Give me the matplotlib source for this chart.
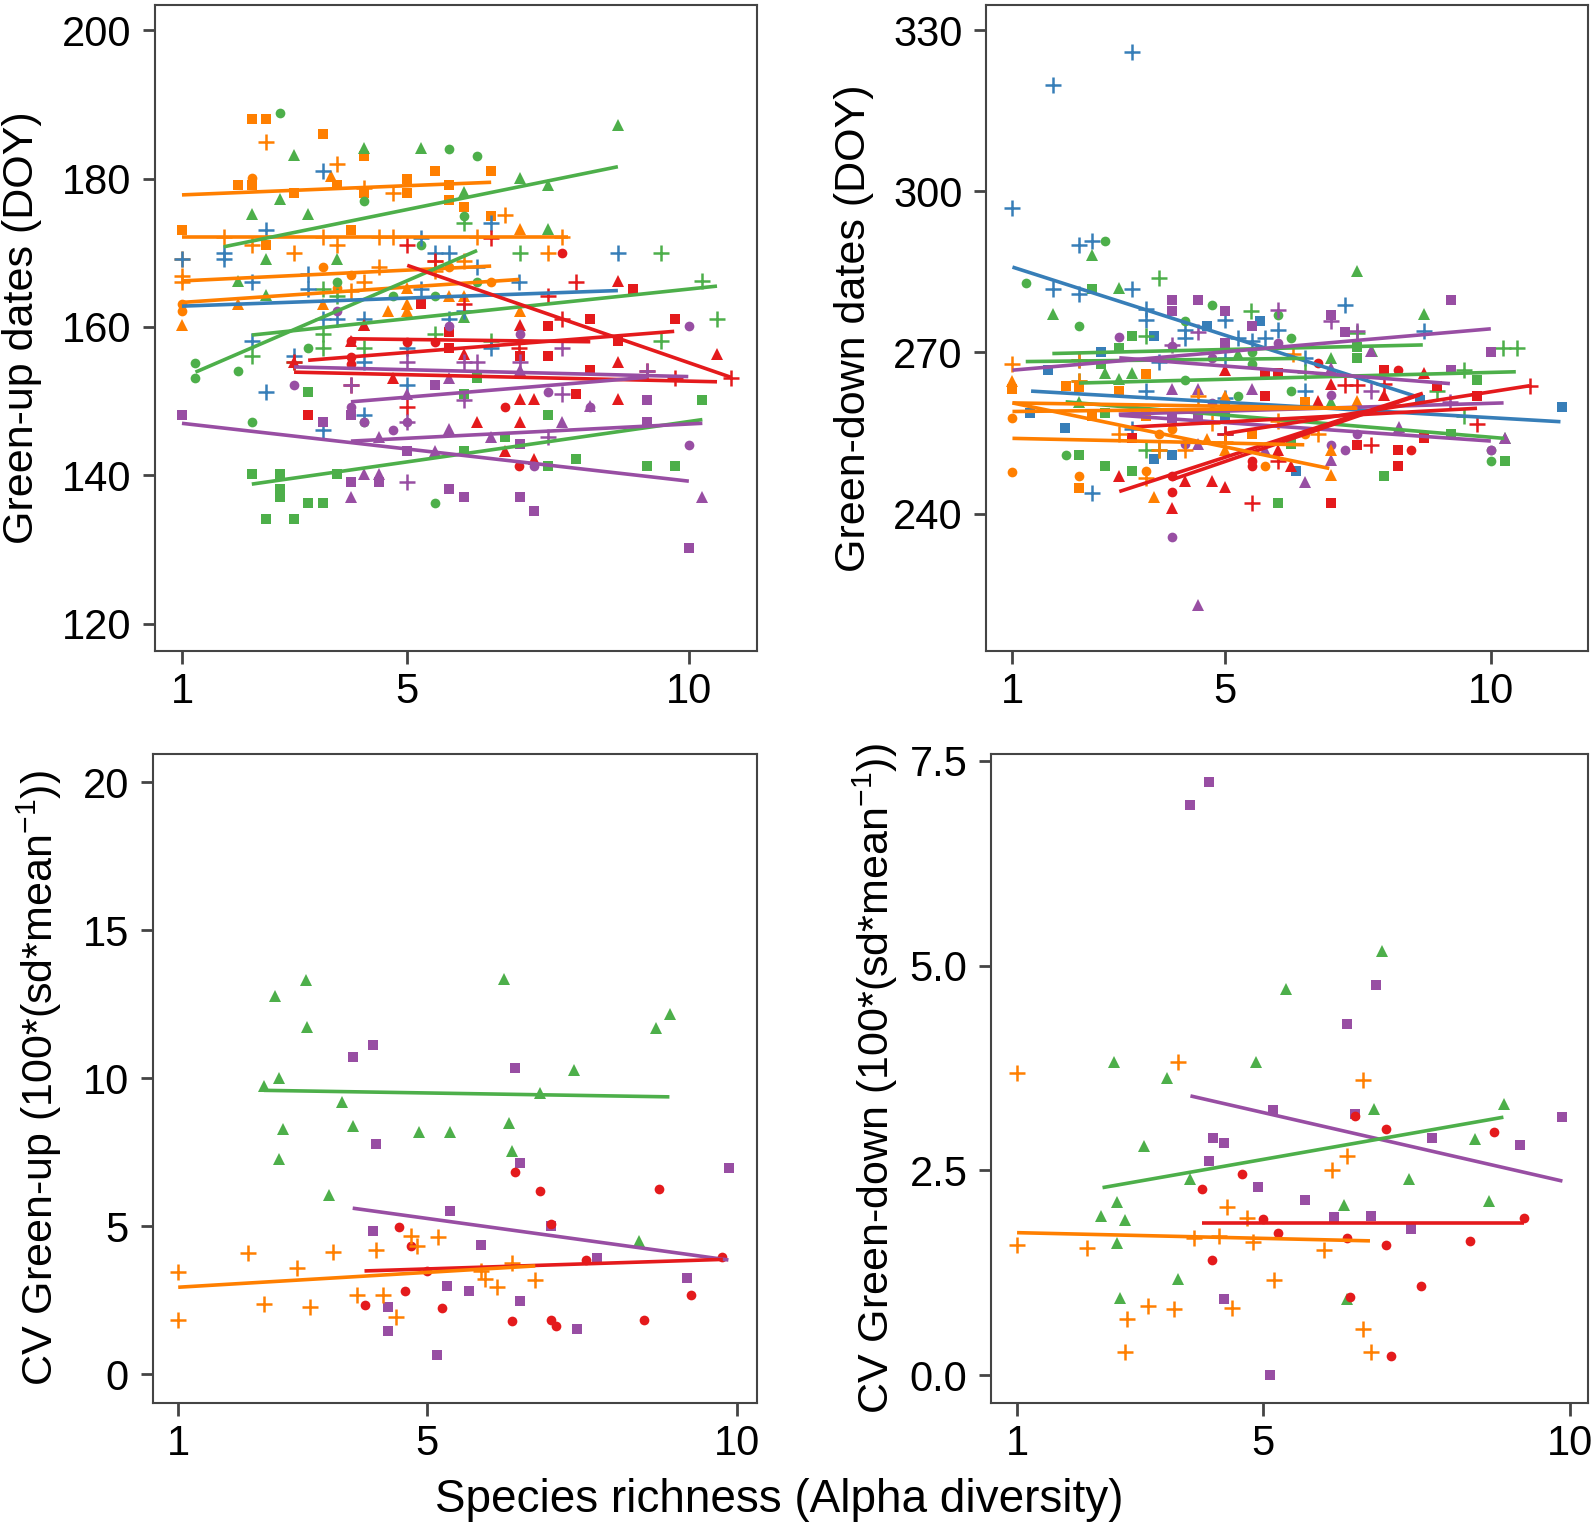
import matplotlib
matplotlib.use("Agg")
import matplotlib.pyplot as plt

plt.rcParams["font.family"] = ["Liberation Sans", "DejaVu Sans"]
plt.rcParams["mathtext.fontset"] = "custom"
plt.rcParams["mathtext.rm"] = "Liberation Sans"
plt.rcParams["mathtext.it"] = "Liberation Sans"

# ---- panel A: green-up dates ----
gu_points = {
    "orange_square": ([2.24, 2.49, 3.50, 4.24, 5.49, 6.49, 5.0, 1.99, 2.24, 5.75, 2.99, 3.75, 4.24, 5.0, 5.75, 6.0, 6.49, 1.0, 4.0, 2.49],
                      [188.0, 188.0, 186.0, 183.0, 181.0, 181.0, 180.0, 179.1, 179.1, 179.1, 178.0, 179.1, 178.0, 178.0, 177.1, 176.1, 175.0, 173.0, 173.0, 171.1]),
    "orange_plus": ([2.49, 3.75, 4.24, 4.74, 6.74, 1.74, 3.50, 4.50, 4.74, 6.24, 7.74, 2.24, 3.75, 2.99, 7.50, 1.0, 5.49, 6.0, 4.50, 1.0, 1.0, 4.24, 4.0, 5.49],
                    [184.9, 182.0, 178.7, 178.0, 175.1, 172.1, 172.1, 172.1, 172.1, 172.1, 172.1, 171.0, 171.0, 170.0, 170.0, 169.1, 168.9, 168.9, 168.1, 166.9, 166.1, 166.0, 164.9, 167.5]),
    "orange_circle": ([2.24, 3.50, 4.0, 3.75, 5.75, 6.49, 1.0, 1.0],
                      [180.1, 168.1, 167.0, 165.2, 168.1, 166.1, 163.1, 162.1]),
    "orange_triangle": ([3.65, 7.0, 1.0, 1.99, 3.50, 4.66, 5.0, 5.0, 5.0, 6.0, 7.0, 5.75],
                        [180.3, 173.2, 160.3, 163.1, 163.1, 162.2, 163.1, 162.1, 165.2, 164.1, 162.1, 164.1]),
    "green_triangle": ([8.74, 4.24, 5.24, 2.99, 7.0, 7.50, 2.74, 6.0, 2.24, 3.24, 7.50, 2.49, 3.75, 1.99, 2.49, 6.0, 4.24],
                       [187.2, 184.1, 184.1, 183.2, 180.1, 179.1, 177.2, 178.2, 175.2, 175.2, 173.2, 169.2, 169.2, 166.2, 164.3, 161.3, 160.3]),
    "green_circle": ([2.74, 5.75, 6.24, 4.24, 6.0, 5.24, 3.75, 4.74, 5.49, 6.24, 1.24, 1.24, 1.99, 3.24, 2.24, 5.49, 4.24],
                     [188.9, 184.0, 183.0, 177.0, 175.0, 171.0, 166.1, 164.1, 164.1, 166.1, 155.1, 153.1, 154.1, 157.1, 147.2, 136.2, 147.2]),
    "green_plus": ([6.0, 7.0, 9.50, 10.24, 10.50, 9.50, 3.50, 3.50, 3.75, 4.24, 2.24, 2.99, 5.49, 6.49, 3.50],
                   [174.0, 170.0, 170.0, 166.2, 161.1, 158.1, 159.0, 157.1, 164.1, 157.1, 156.1, 155.2, 159.1, 158.1, 165.1]),
    "green_square": ([10.24, 7.50, 8.0, 9.25, 9.75, 7.50, 6.0, 6.74, 6.24, 6.0, 3.24, 3.75, 2.24, 2.74, 2.74, 2.74, 3.24, 3.50, 2.49, 2.99],
                     [150.1, 148.1, 142.2, 141.2, 141.2, 141.2, 143.2, 145.1, 153.1, 151.0, 151.2, 140.1, 140.1, 140.1, 138.1, 137.1, 136.2, 136.2, 134.1, 134.1]),
    "blue_plus": ([3.50, 2.49, 1.74, 1.0, 1.74, 2.24, 3.24, 3.24, 5.24, 5.49, 5.75, 6.49, 6.24, 6.99, 8.74, 5.24, 6.0, 3.50, 3.75, 4.24, 5.75, 2.24, 2.99, 4.24, 6.49, 5.0, 5.0, 2.49, 4.24, 3.50],
                  [181.0, 173.0, 170.0, 169.1, 169.1, 166.1, 167.2, 165.1, 172.0, 170.0, 170.0, 174.0, 168.1, 166.0, 170.0, 165.1, 162.1, 161.1, 161.1, 161.1, 161.1, 158.1, 156.1, 155.2, 157.1, 157.1, 152.2, 151.2, 148.1, 146.1]),
    "red_plus": ([5.0, 6.49, 5.49, 8.0, 7.50, 6.0, 7.74, 6.99, 9.25, 9.75, 10.75, 2.99, 4.0, 5.0],
                 [171.0, 172.0, 168.9, 166.1, 164.1, 163.1, 161.1, 157.1, 154.0, 153.1, 153.1, 155.2, 152.2, 149.2]),
    "red_square": ([9.0, 8.25, 9.75, 7.50, 8.74, 7.50, 7.0, 5.75, 5.75, 5.24, 8.25, 8.0, 3.24],
                   [165.1, 161.1, 161.1, 160.1, 158.1, 156.1, 156.1, 159.3, 157.1, 163.1, 154.2, 151.0, 148.1]),
    "red_circle": ([7.74, 4.0, 4.0, 5.0, 5.49, 6.74, 6.99, 4.0],
                   [170.0, 156.0, 155.0, 158.0, 158.0, 149.2, 141.2, 158.1]),
    "red_triangle": ([8.74, 7.0, 4.24, 4.0, 6.0, 8.74, 10.50, 4.74, 7.0, 7.25, 6.24, 7.0, 8.74, 6.74, 7.25, 2.99],
                     [166.2, 160.3, 160.3, 158.1, 156.3, 155.2, 156.3, 153.1, 150.3, 150.3, 147.2, 147.2, 150.3, 143.2, 142.2, 155.2]),
    "purple_square": ([1.0, 5.49, 9.25, 9.25, 3.50, 4.0, 7.0, 4.0, 4.50, 5.75, 6.0, 7.0, 7.25, 10.0, 5.0],
                      [148.1, 152.2, 150.1, 147.2, 147.2, 148.1, 144.2, 139.1, 139.1, 138.2, 137.1, 137.1, 135.2, 130.2, 143.2]),
    "purple_circle": ([10.0, 7.0, 5.75, 2.99, 3.75, 7.50, 4.0, 4.24, 4.74, 8.25, 7.25, 10.0, 5.0],
                      [160.1, 159.1, 160.1, 152.2, 162.1, 151.2, 149.2, 147.2, 146.1, 149.2, 141.2, 144.1, 147.2]),
    "purple_triangle": ([5.0, 5.75, 7.0, 7.74, 5.75, 6.49, 5.49, 4.50, 4.24, 4.0, 4.50, 10.24, 8.25],
                        [151.0, 153.1, 154.2, 147.2, 146.2, 145.1, 143.2, 145.1, 140.1, 137.1, 140.1, 137.1, 149.3]),
    "purple_plus": ([4.0, 5.0, 6.0, 6.24, 7.0, 7.74, 7.74, 6.0, 9.25, 7.50, 5.0, 5.0],
                    [152.2, 155.2, 155.2, 155.2, 155.2, 157.1, 151.0, 150.1, 154.0, 145.1, 139.1, 147.2]),
}
gu_lines = [
    ("orange", [1.0, 6.49], [177.8, 179.5]),
    ("orange", [1.0, 7.86], [172.1, 172.1]),
    ("orange", [1.0, 6.49], [166.2, 168.2]),
    ("orange", [1.0, 6.99], [163.3, 166.4]),
    ("green", [1.74, 8.74], [170.8, 181.6]),
    ("green", [1.24, 6.24], [153.9, 170.3]),
    ("green", [2.24, 10.5], [158.9, 165.5]),
    ("green", [2.24, 10.24], [138.8, 147.5]),
    ("blue", [1.0, 8.74], [162.8, 164.9]),
    ("red", [5.0, 10.75], [168.3, 153.2]),
    ("red", [4.0, 8.25], [158.4, 158.0]),
    ("red", [3.24, 9.74], [155.5, 159.4]),
    ("red", [2.99, 10.5], [153.9, 152.6]),
    ("purple", [2.99, 9.99], [154.6, 153.3]),
    ("purple", [4.0, 9.25], [149.9, 153.2]),
    ("purple", [4.0, 10.24], [144.6, 147.0]),
    ("purple", [1.0, 10.0], [147.0, 139.2]),
]

# ---- panel B: green-down dates ----
gd_points = {
    "blue_plus": ([3.24, 1.76, 1.0, 2.25, 2.50, 1.76, 2.25, 3.24, 3.51, 3.51, 4.25, 4.25, 5.0, 5.25, 5.51, 5.76, 6.0, 7.25, 6.50, 6.50, 3.51, 5.0, 5.0, 3.75, 8.74, 2.50, 3.24, 2.25, 5.0],
                  [325.9, 319.8, 296.9, 290.0, 290.8, 281.9, 280.8, 281.8, 276.1, 278.0, 274.1, 272.6, 276.1, 272.6, 272.2, 272.6, 274.1, 278.8, 269.0, 262.9, 262.8, 261.6, 254.9, 268.2, 274.0, 243.8, 255.7, 268.6, 269.0]),
    "blue_square": ([11.33, 5.66, 4.66, 3.66, 2.66, 1.66, 1.33, 1.99, 3.66, 4.0, 6.33, 8.66, 5.0],
                    [259.9, 275.9, 274.9, 273.0, 270.0, 266.7, 258.8, 255.9, 250.1, 250.9, 248.0, 261.2, 258.1]),
    "green_circle": ([1.26, 2.75, 2.25, 4.75, 4.25, 6.0, 6.24, 5.51, 5.51, 4.25, 5.25, 6.24, 2.0, 10.01, 10.01],
                     [283.0, 290.8, 274.9, 278.8, 275.9, 276.9, 272.7, 270.0, 267.9, 264.9, 261.8, 262.8, 250.9, 251.8, 249.8]),
    "green_triangle": ([7.49, 2.50, 1.76, 3.01, 8.74, 2.75, 3.01, 3.24, 7.0, 10.26, 2.25, 5.25, 7.0, 7.77],
                       [285.1, 288.2, 277.1, 282.0, 277.1, 266.1, 265.1, 266.1, 269.0, 254.1, 260.8, 269.8, 260.8, 270.2]),
    "green_square": ([2.50, 3.01, 3.24, 2.66, 7.49, 7.49, 9.74, 9.25, 2.25, 2.75, 3.24, 6.0, 7.99, 10.26, 6.24, 2.75],
                     [281.9, 270.9, 273.0, 267.8, 271.0, 268.9, 264.9, 254.9, 250.9, 248.9, 248.0, 241.9, 246.9, 249.8, 253.0, 258.8]),
    "green_plus": ([3.75, 5.49, 7.49, 3.51, 2.25, 9.50, 8.99, 10.23, 10.49, 3.75, 3.51, 9.50, 6.50],
                   [283.9, 277.8, 273.7, 273.0, 264.7, 266.7, 262.9, 270.8, 270.8, 251.8, 251.8, 258.1, 266.3]),
    "purple_square": ([4.0, 4.50, 4.0, 5.0, 5.50, 7.0, 7.25, 9.25, 10.0, 9.25, 5.0, 4.0, 4.50],
                      [279.8, 279.8, 277.8, 277.8, 274.9, 276.9, 273.9, 279.8, 270.0, 266.8, 271.8, 257.7, 257.7]),
    "purple_circle": ([3.01, 4.0, 4.75, 6.0, 7.0, 7.0, 7.25, 7.49, 10.01, 4.0, 4.25, 4.75],
                      [272.8, 271.2, 268.9, 271.8, 262.0, 252.8, 251.8, 254.9, 251.8, 235.7, 253.0, 260.6]),
    "purple_triangle": ([4.50, 4.0, 4.50, 5.50, 6.50, 7.0, 7.0, 7.75, 8.27, 10.26, 4.50, 5.76],
                        [223.0, 263.2, 263.2, 263.2, 245.9, 250.0, 267.1, 270.2, 256.1, 254.1, 253.0, 251.9]),
    "purple_plus": ([6.0, 7.0, 7.49, 4.50, 5.0, 7.74, 9.23, 4.0],
                    [277.9, 275.9, 274.0, 273.9, 254.9, 262.8, 260.8, 271.4]),
    "red_triangle": ([5.0, 7.0, 6.75, 7.99, 8.74, 3.01, 4.25, 4.75, 5.0, 4.0, 6.0, 6.24],
                     [266.8, 264.2, 261.0, 262.0, 266.1, 246.9, 246.1, 246.1, 245.0, 241.1, 251.9, 248.9]),
    "red_circle": ([6.75, 8.25, 5.50, 5.50, 8.50, 4.0, 4.0],
                   [268.1, 266.8, 249.8, 248.9, 251.8, 246.9, 244.0]),
    "red_square": ([5.75, 6.0, 7.99, 5.75, 8.98, 7.49, 8.25, 8.25, 3.24, 7.0, 9.74, 8.74],
                   [266.1, 266.1, 266.8, 261.8, 263.7, 252.8, 251.8, 248.9, 254.1, 241.9, 261.8, 254.1]),
    "red_plus": ([10.73, 7.25, 7.49, 7.99, 7.74, 6.0, 5.50, 9.74, 5.0],
                 [263.8, 263.9, 263.9, 264.2, 252.8, 249.8, 241.9, 256.7, 254.9]),
    "orange_plus": ([1.0, 2.25, 2.25, 3.01, 3.51, 4.50, 4.25, 3.75, 4.75, 5.0, 6.0, 6.75, 6.27],
                    [267.9, 268.5, 264.7, 254.9, 246.7, 261.8, 251.8, 251.8, 256.9, 253.4, 257.3, 254.9, 269.7]),
    "orange_square": ([1.0, 2.0, 2.25, 2.50, 3.01, 3.51, 3.51, 2.25, 5.51, 6.50, 5.0],
                      [263.2, 263.8, 263.5, 258.1, 262.8, 265.9, 258.1, 244.7, 254.9, 260.8, 259.6]),
    "orange_circle": ([1.0, 1.0, 2.25, 3.51, 5.75, 6.50, 4.0, 3.75],
                      [257.8, 247.7, 246.9, 247.9, 248.9, 254.9, 255.7, 254.9]),
    "orange_triangle": ([1.0, 3.67, 4.66, 5.0, 7.0, 7.0, 7.49, 5.0],
                        [264.7, 243.0, 253.9, 251.9, 251.9, 247.1, 261.0, 261.8]),
}
gd_lines = [
    ("blue", [1.0, 8.66], [285.9, 261.6]),
    ("blue", [1.35, 11.31], [262.8, 257.1]),
    ("green", [1.75, 8.72], [269.8, 271.4]),
    ("green", [1.25, 6.5], [268.3, 268.9]),
    ("green", [2.25, 10.47], [264.3, 266.4]),
    ("green", [2.0, 10.25], [260.8, 254.0]),
    ("purple", [1.0, 10.0], [266.7, 274.4]),
    ("purple", [3.01, 9.23], [269.0, 264.2]),
    ("purple", [3.01, 10.0], [258.3, 253.5]),
    ("purple", [3.0, 10.24], [258.5, 260.6]),
    ("red", [3.01, 8.72], [244.1, 262.4]),
    ("red", [4.0, 8.66], [246.3, 262.1]),
    ("red", [3.24, 9.74], [256.1, 259.6]),
    ("red", [5.0, 10.73], [254.9, 263.8]),
    ("orange", [1.0, 7.49], [260.6, 259.6]),
    ("orange", [1.0, 7.46], [259.0, 259.7]),
    ("orange", [1.0, 6.96], [260.6, 248.4]),
    ("orange", [1.0, 6.49], [254.0, 252.8]),
]

# ---- panel C: CV green-up ----
cvu_points = {
    "green_triangle": ([3.06, 2.56, 3.08, 2.63, 2.38, 3.63, 2.69, 3.81, 2.63, 3.43, 4.88, 5.37, 6.25, 6.32, 6.37, 6.82, 7.38, 8.69, 8.92, 8.42],
                       [13.33, 12.77, 11.74, 10.02, 9.73, 9.20, 8.29, 8.40, 7.27, 6.07, 8.17, 8.17, 13.36, 8.49, 7.53, 9.49, 10.27, 11.70, 12.18, 4.50]),
    "purple_square": ([4.13, 3.81, 6.43, 4.19, 6.50, 5.38, 4.13, 5.88, 7.0, 7.75, 9.87, 9.19, 5.33, 5.68, 6.50, 4.38, 4.38, 7.42, 5.17],
                      [11.11, 10.70, 10.35, 7.78, 7.13, 5.50, 4.84, 4.35, 5.00, 3.93, 6.97, 3.24, 2.99, 2.81, 2.47, 2.27, 1.45, 1.53, 0.65]),
    "red_circle": ([6.42, 6.82, 8.75, 7.0, 4.56, 4.75, 7.57, 9.76, 4.66, 4.0, 5.25, 6.38, 7.0, 7.08, 8.50, 9.25, 5.0],
                   [6.83, 6.19, 6.26, 5.08, 4.96, 4.34, 3.85, 3.95, 2.82, 2.33, 2.23, 1.79, 1.82, 1.63, 1.85, 2.68, 3.49]),
    "orange_plus": ([1.0, 1.0, 2.13, 2.38, 2.91, 3.13, 3.50, 3.88, 4.19, 4.29, 4.50, 4.75, 4.85, 5.19, 5.88, 5.94, 6.13, 6.38, 6.75],
                    [3.46, 1.82, 4.09, 2.39, 3.60, 2.27, 4.12, 2.69, 4.19, 2.68, 1.92, 4.67, 4.34, 4.64, 3.49, 3.22, 2.94, 3.77, 3.18]),
}
cvu_lines = [
    ("green", [2.38, 8.91], [9.59, 9.37]),
    ("purple", [3.81, 9.86], [5.61, 3.86]),
    ("red", [4.0, 9.77], [3.49, 3.88]),
    ("orange", [1.0, 6.75], [2.94, 3.66]),
]

# ---- panel D: CV green-down ----
cvd_points = {
    "purple_square": ([4.12, 3.81, 6.83, 6.37, 5.16, 6.49, 4.18, 4.37, 4.12, 7.75, 9.87, 9.18, 4.92, 5.68, 6.16, 6.75, 7.41, 4.37, 5.12],
                      [7.24, 6.96, 4.77, 4.29, 3.24, 3.19, 2.90, 2.84, 2.62, 2.89, 3.15, 2.81, 2.30, 2.14, 1.93, 1.94, 1.78, 0.93, 0.0]),
    "green_triangle": ([6.94, 5.38, 2.57, 4.88, 3.44, 6.81, 8.92, 3.06, 8.44, 3.81, 7.38, 2.63, 2.37, 2.75, 6.31, 8.68, 2.63, 3.62, 2.68, 6.37],
                       [5.18, 4.72, 3.83, 3.83, 3.63, 3.25, 3.31, 2.80, 2.88, 2.40, 2.39, 2.12, 1.94, 1.90, 2.08, 2.13, 1.61, 1.17, 0.94, 0.93]),
    "red_circle": ([6.50, 7.0, 8.75, 4.66, 4.0, 5.0, 9.25, 5.25, 6.37, 7.0, 8.37, 4.17, 7.57, 6.41, 7.08],
                   [3.16, 3.0, 2.97, 2.46, 2.27, 1.91, 1.92, 1.74, 1.67, 1.59, 1.64, 1.41, 1.09, 0.96, 0.24]),
    "orange_plus": ([1.0, 3.62, 6.62, 6.37, 6.12, 4.41, 4.74, 3.87, 4.28, 4.83, 6.0, 1.0, 2.13, 5.18, 3.13, 3.56, 4.50, 2.78, 6.62, 2.75, 6.75],
                    [3.69, 3.83, 3.60, 2.68, 2.50, 2.05, 1.92, 1.67, 1.70, 1.62, 1.53, 1.59, 1.55, 1.16, 0.84, 0.81, 0.82, 0.69, 0.56, 0.28, 0.28]),
}
cvd_lines = [
    ("purple", [3.82, 9.87], [3.41, 2.37]),
    ("green", [2.39, 8.91], [2.29, 3.15]),
    ("red", [4.0, 9.25], [1.86, 1.86]),
    ("orange", [1.0, 6.74], [1.74, 1.64]),
]

colors = {"blue": "#377EB8", "orange": "#FF7F00", "green": "#4DAF4A",
          "red": "#E41A1C", "purple": "#984EA3"}
markers = {"circle": ("o", 7), "triangle": ("^", 9), "square": ("s", 6.8), "plus": ("+", 11)}

fig = plt.figure(figsize=(15.94, 15.26), dpi=100)

panels = [
    ([0.0972, 0.5734, 0.3777, 0.4233], gu_points, gu_lines, (0.52, 11.21), (116.3, 203.4),
     [120, 140, 160, 180, 200], ["120", "140", "160", "180", "200"],
     "Green-up dates (DOY)", -0.188),
    ([0.6186, 0.5734, 0.3777, 0.4233], gd_points, gd_lines, (0.503, 11.83), (214.4, 334.7),
     [240, 270, 300, 330], ["240", "270", "300", "330"],
     "Green-down dates (DOY)", -0.186),
    ([0.0957, 0.0806, 0.3792, 0.4253], cvu_points, cvu_lines, (0.587, 10.32), (-0.97, 20.95),
     [0, 5, 10, 15, 20], ["0", "5", "10", "15", "20"],
     "CV Green-up (100*(sd*mean$^{-1}$))", -0.147),
    ([0.6217, 0.0806, 0.3745, 0.4253], cvd_points, cvd_lines, (0.576, 10.285), (-0.34, 7.585),
     [0, 2.5, 5.0, 7.5], ["0.0", "2.5", "5.0", "7.5"],
     "CV Green-down (100*(sd*mean$^{-1}$))", -0.152),
]

for rect, pts, lines, xlim, ylim, yt, ytl, ylab, ylx in panels:
    ax = fig.add_axes(rect)
    for key, (xs, ys) in pts.items():
        col, shape = key.split("_")
        m, ms = markers[shape]
        if m == "+":
            ax.plot(xs, ys, linestyle="none", marker=m, markersize=ms,
                    markeredgewidth=1.8, color=colors[col])
        else:
            ax.plot(xs, ys, linestyle="none", marker=m, markersize=ms,
                    markeredgewidth=0, color=colors[col])
    for col, lx, ly in lines:
        ax.plot(lx, ly, color=colors[col], lw=2.6, solid_capstyle="butt")
    ax.set_xlim(*xlim)
    ax.set_ylim(*ylim)
    ax.set_xticks([1, 5, 10])
    ax.set_xticklabels(["1", "5", "10"])
    ax.set_yticks(yt)
    ax.set_yticklabels(ytl)
    ax.tick_params(labelsize=30, length=9, width=2, color="#444444")
    ax.tick_params(axis="x", pad=6)
    ax.tick_params(axis="y", pad=8)
    for s in ax.spines.values():
        s.set_color("#444444")
        s.set_linewidth(1.5)
    ax.set_ylabel(ylab, fontsize=31)
    ax.yaxis.set_label_coords(ylx, 0.5)

fig.text(0.489, 0.017, "Species richness (Alpha diversity)", fontsize=33,
         ha="center", va="center")

fig.savefig("out.png", dpi=100)
